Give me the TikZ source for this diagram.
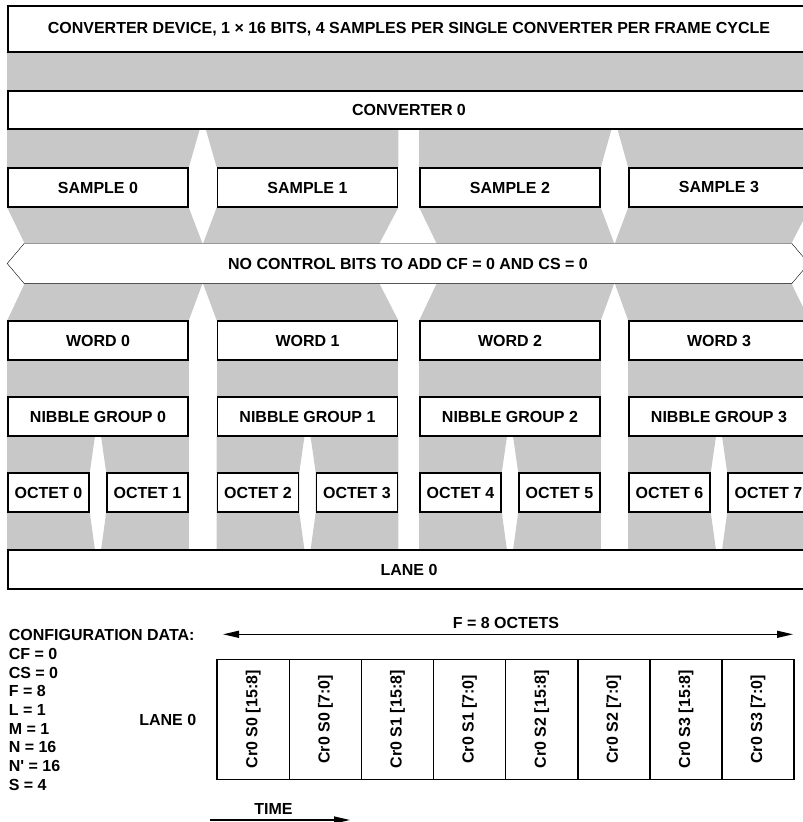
\documentclass[tikz,border=0pt]{standalone}
\usepackage{fontspec}
\setmainfont{Liberation Sans}
\usepackage{tikz}
\usetikzlibrary{matrix, arrows.meta, backgrounds}
\definecolor{bandgray}{RGB}{200,200,200}

\begin{document}
\begin{tikzpicture}[x=1pt, y=-1pt, line width=1.6pt,
        font=\fontsize{16}{18.7}\selectfont\bfseries,
        blk/.style={draw, fill=white, inner sep=0pt, minimum height=38.5pt},
        flow/.style={line width=1.3pt, {Triangle[length=16pt,width=7pt]}-{Triangle[length=16pt,width=7pt]}}]
        \useasboundingbox (0,0) rectangle (803,822);
        % stacked blocks
        \node[blk, minimum width=802pt, minimum height=46pt] (dev) at (409,29) {CONVERTER DEVICE, 1 × 16 BITS, 4 SAMPLES PER SINGLE CONVERTER PER FRAME CYCLE};
        \node[blk, minimum width=802pt] (conv) at (409,110) {CONVERTER 0};
        \node[inner sep=0pt, minimum width=766pt, minimum height=38.5pt] (ctrl) at (408,263.5) {NO CONTROL BITS TO ADD CF = 0 AND CS = 0};
        \node[blk, minimum width=802pt] (lane) at (409,569.5) {LANE 0};
        \foreach \i/\x [evaluate=\i as \a using {int(2*\i)}, evaluate=\i as \b using {int(2*\i+1)}] in {0/98,1/307.5,2/510,3/719} {
            \node[blk, minimum width=180pt] (s\i) at (\x,187.5) {SAMPLE \i};
            \node[blk, minimum width=180pt] (w\i) at (\x,340.5) {WORD \i};
            \node[blk, minimum width=180pt] (g\i) at (\x,416.5) {NIBBLE GROUP \i};
            \node[blk, minimum width=81pt] (o\a) at (\x-49.5,492.5) {OCTET \a};
            \node[blk, minimum width=81pt] (o\b) at (\x+49.5,492.5) {OCTET \b};
        }
        \begin{scope}[on background layer]
            \fill[bandgray] (dev.south west) rectangle (conv.north east);
            \fill[bandgray] (conv.south west) -- (199.75,129.25) -- (s0.north east) -- (s0.north west) -- cycle;
            \fill[bandgray] (205.75,129.25) -- (conv.south -| s1.east) -- (s1.north east) -- (s1.north west) -- cycle;
            \fill[bandgray] (conv.south -| s2.west) -- (611.5,129.25) -- (s2.north east) -- (s2.north west) -- cycle;
            \fill[bandgray] (617.5,129.25) -- (conv.south east) -- (s3.north east) -- (s3.north west) -- cycle;
            \foreach \i/\l/\r in {0/25/202.75, 1/202.75/379, 2/437/614.5, 3/614.5/791}
                \fill[bandgray] (s\i.south west) -- (s\i.south east) -- (\r,244.25) -- (\r,282.75)
                    -- (w\i.north east) -- (w\i.north west) -- (\l,282.75) -- (\l,244.25) -- cycle;
            \foreach \i/\x [evaluate=\i as \a using {int(2*\i)}, evaluate=\i as \b using {int(2*\i+1)}] in {0/98,1/307.5,2/510,3/719} {
                \fill[bandgray] (w\i.south west) rectangle (g\i.north east);
                \fill[bandgray] (g\i.south west) -- (\x-3,436.25) -- (o\a.north east) -- (o\a.south east)
                    -- (\x-3,550.25) -- (lane.north -| g\i.west) -- cycle;
                \fill[bandgray] (\x+3,436.25) -- (g\i.south east) -- (lane.north -| g\i.east)
                    -- (\x+3,550.25) -- (o\b.south west) -- (o\b.north west) -- cycle;
            }
            \draw[fill=white] (ctrl.north west) -- (ctrl.north east) -- ([xshift=17pt]ctrl.east) -- (ctrl.south east)
                -- (ctrl.south west) -- ([xshift=-17pt]ctrl.west) -- cycle;
        \end{scope}

        % configuration data and frame
        \foreach \t [count=\k from 0] in {CONFIGURATION DATA:, CF = 0, CS = 0, F = 8, L = 1, M = 1, N = 16, N\textquotesingle{} = 16, S = 4}
            \node[anchor=base west, inner sep=0pt] (cfg\k) at (8,640.7+18.67*\k) {\t};
        \node[anchor=base east, inner sep=0pt] (lanelbl) at (197,725) {LANE 0};
        \matrix (frm) [matrix of nodes, nodes={draw, anchor=center, minimum width=72.1pt, minimum height=120pt, inner sep=0pt},
            column sep=-\pgflinewidth] at (505.65,719.3) {
            \rotatebox{90}{Cr0 S0 [15:8]} & \rotatebox{90}{Cr0 S0 [7:0]} & \rotatebox{90}{Cr0 S1 [15:8]} & \rotatebox{90}{Cr0 S1 [7:0]} &
            \rotatebox{90}{Cr0 S2 [15:8]} & \rotatebox{90}{Cr0 S2 [7:0]} & \rotatebox{90}{Cr0 S3 [15:8]} & \rotatebox{90}{Cr0 S3 [7:0]}\\};
        \coordinate (fl) at (223,634.3);
        \coordinate (fr) at (793,634.3);
        \draw[flow] (fl) -- (fr);
        \node[anchor=base, inner sep=0pt] (flbl) at (506,628.3) {F = 8 OCTETS};
        \node[anchor=base, inner sep=0pt] (tlbl) at (273.5,814) {TIME};
        \coordinate (t0) at (210,820);
        \coordinate (t1) at (350,820);
        \draw[flow, {Triangle[length=16pt,width=7pt]}-] (t1) -- (t0);
    \end{tikzpicture}
\end{document}
